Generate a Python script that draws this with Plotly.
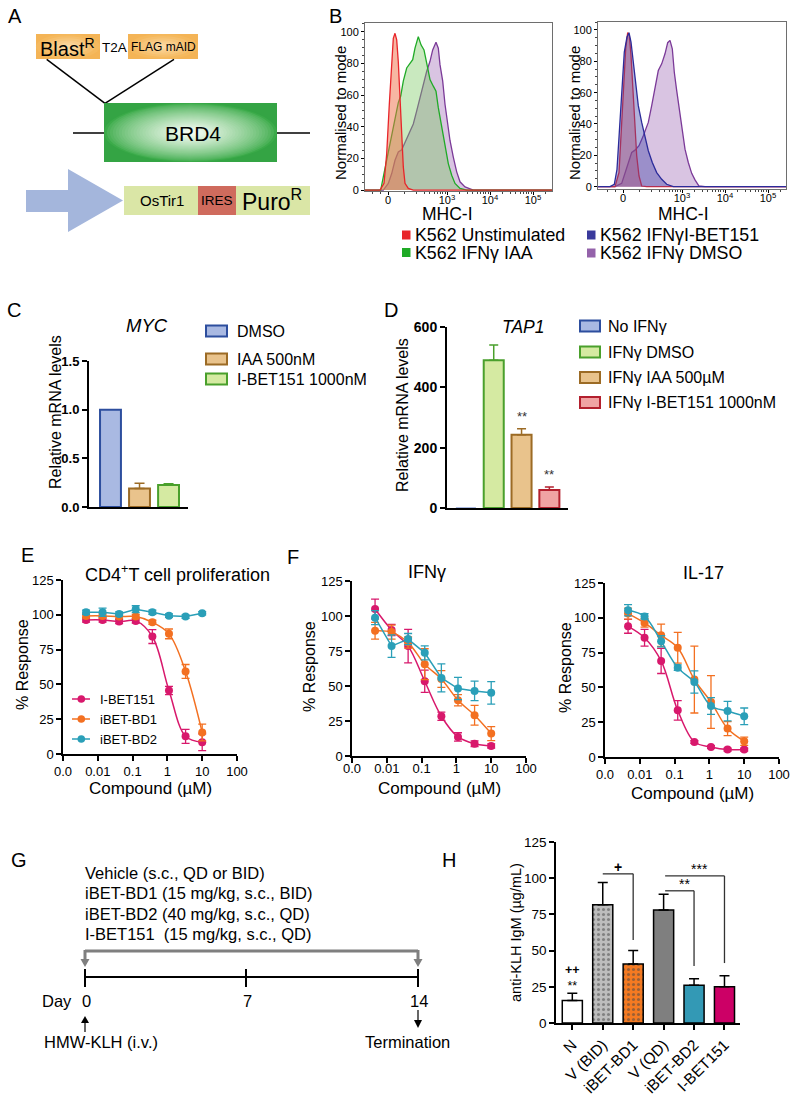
import numpy as np
import plotly.graph_objects as go

W, H = 800, 1100
FONT = "Liberation Sans, Arial, Helvetica, sans-serif"

# ======================= DATA =======================
# Panel B - MHC-I flow histograms (x in biexponential display units, y = % of mode)
hist_tick_vals = [0, 59, 102, 145]
hist_tick_text = ["0", "10<sup>3</sup>", "10<sup>4</sup>", "10<sup>5</sup>"]

b1_unstim_x = [-25, -8, -4, -1.3, 1.3, 3.7, 5.3, 7, 8.7, 10.3, 12, 13.7, 15.3, 17, 20.3, 25.3, 165]
b1_unstim_y = [0, 0, 4.2, 22.9, 54, 83, 95.8, 99, 94.8, 81, 58.3, 33.3, 14.6, 4.2, 1, 0, 0]
b1_iaa_x = [-25, -7.3, -4.7, -2, 0.3, 3.7, 7, 10.3, 12.7, 15.3, 18.7, 22, 24.7, 27, 30.3, 33, 36,
            38.7, 42, 45.3, 48, 50.3, 53.7, 57, 60.3, 63.7, 67, 72, 78.7, 165]
b1_iaa_y = [0, 0, 8.3, 16.7, 22.9, 35.4, 43.8, 55.2, 59.4, 68.8, 77.1, 80.2, 82.3, 89.6, 96.9, 91.7,
            88.5, 80.2, 69.8, 65.6, 62.5, 52, 39.6, 27.1, 16.7, 9.4, 4.2, 1, 0, 0]
b1_dmso_x = [-25, -4.7, 0.3, 3.7, 7, 10.3, 13.7, 17, 20.3, 25.3, 28.7, 32, 35.3, 38.7, 42, 44.7, 48,
             50.3, 52, 54.7, 57, 59.3, 62, 65.3, 68.7, 72, 77, 85.3, 165]
b1_dmso_y = [0, 0, 4.2, 10.4, 18.8, 24, 25.4, 30.2, 35.4, 41.7, 50, 58.3, 66.7, 75, 81.3, 88.5, 93.3,
             89.6, 79.2, 68.8, 54.2, 43.8, 31.3, 20.8, 11.5, 5.2, 2, 0, 0]

b2_unstim_x = [-25, -8, -4, -2, 0.3, 2.7, 4.7, 6.3, 8, 9.7, 11.3, 13.7, 16, 18.7, 23.7, 165]
b2_unstim_y = [0, 0, 9, 30.3, 62.4, 88, 98.3, 96.6, 83.8, 62.4, 41, 19.7, 6.8, 0.4, 0, 0]
b2_ibet_x = [-25, -13, -8.7, -6, -3.7, -1.3, 1.3, 4, 6, 8, 10.3, 12.7, 15.3, 18.7, 22, 25.3, 29.3,
             33.7, 38.7, 43.7, 50.3, 165]
b2_ibet_y = [0, 0, 1.5, 11.1, 34.6, 62.4, 85.9, 95.5, 98.3, 92.3, 78.4, 65.6, 51.7, 41, 31.4, 22.9,
             15.4, 9, 4.7, 1.5, 0, 0]
b2_dmso_x = [-25, -8, -1.3, 3.7, 8.7, 12, 16, 20.3, 25.3, 28.7, 32, 35.3, 38.7, 42, 44.7, 47, 49.3,
             51.3, 53.7, 57, 59.3, 62, 65.3, 68.7, 72, 76, 82, 165]
b2_dmso_y = [0, 0, 2.1, 12.2, 21.8, 23.3, 26.1, 32.5, 41, 51.7, 63.5, 74.1, 78.4, 84.8, 91.9, 93.4,
             88, 73, 61.3, 46.3, 34.6, 23.9, 15.4, 8.5, 4.3, 0.4, 0, 0]
hist_legend = ["K562 Unstimulated", "K562 IFNγ IAA", "K562 IFNγI-BET151", "K562 IFNγ DMSO"]

# Panel C - MYC
myc_groups = ["DMSO", "IAA 500nM", "I-BET151 1000nM"]
myc_values = [1.0, 0.19, 0.225]
myc_errors = [0.0, 0.055, 0.015]

# Panel D - TAP1
tap1_groups = ["No IFNγ", "IFNγ DMSO", "IFNγ IAA 500µM", "IFNγ I-BET151 1000nM"]
tap1_values = [1.0, 490.0, 243.0, 60.0]
tap1_errors = [0.0, 50.0, 20.0, 10.0]
tap1_sig = ["", "", "**", "**"]

# Panels E/F - dose response
conc = [0.0046, 0.0137, 0.041, 0.123, 0.37, 1.11, 3.33, 10]
compounds = ["I-BET151", "iBET-BD1", "iBET-BD2"]
conc_ticks = [0.001, 0.01, 0.1, 1, 10, 100]
conc_tick_text = ["0.0", "0.01", "0.1", "1", "10", "100"]

e_ibet151 = [96.3, 96.3, 95.1, 95.6, 84.4, 45.6, 12.7, 8.4]
e_ibet151_err = [1.5, 1.5, 1.5, 1.5, 5, 3, 5, 6]
e_bd1 = [99.2, 99.2, 98.7, 98.7, 94.6, 86.3, 59.3, 15.5]
e_bd1_err = [1.5, 1.5, 1.5, 1.5, 1.5, 3.5, 5, 6]
e_bd2 = [101.8, 101.8, 100.6, 104, 101.8, 99.4, 98.7, 101.1]
e_bd2_err = [1.5, 3, 1.5, 2.5, 1.5, 1.2, 1.2, 1.2]

ifng_ibet151 = [105, 90, 78.5, 53.4, 28.4, 13.6, 8.8, 7.2]
ifng_ibet151_err = [7, 4, 12, 8, 3, 3, 2, 1.5]
ifng_bd1 = [89.5, 88.5, 81, 65.6, 55, 39.8, 29.1, 16]
ifng_bd1_err = [6, 5, 4, 11, 6, 4, 7, 5]
ifng_bd2 = [98.8, 78.5, 83.5, 73.7, 55.8, 48.2, 46.5, 45.1]
ifng_bd2_err = [5, 8, 4, 5, 10, 8, 7, 8]

il17_ibet151 = [93.9, 85.7, 69, 33.5, 10.8, 7.2, 5.3, 5.3]
il17_ibet151_err = [5, 6, 9, 7, 1, 1, 1, 1]
il17_bd1 = [103, 96.3, 87.4, 78.5, 55.6, 39.5, 20.4, 11.3]
il17_bd1_err = [4, 3, 8, 11, 24, 19, 5, 3]
il17_bd2 = [105.4, 101, 83.1, 64.2, 53.9, 36.6, 33, 29.2]
il17_bd2_err = [4, 2, 4, 2, 8, 6, 7, 6]

# Panel G - timeline text
g_treatments = ["Vehicle (s.c., QD or BID)", "iBET-BD1 (15 mg/kg, s.c., BID)",
                "iBET-BD2 (40 mg/kg, s.c., QD)", "I-BET151\u00a0 (15 mg/kg, s.c., QD)"]
g_days = [0, 7, 14]

# Panel H - anti-KLH IgM
klh_groups = ["N", "V (BID)", "iBET-BD1", "V (QD)", "iBET-BD2", "I-BET151"]
klh_values = [15.6, 81.6, 40.7, 78.1, 26.0, 25.0]
klh_errors = [5.0, 15.4, 9.3, 10.9, 4.5, 7.6]
# (from group, to group, bracket level, drop to, label)
klh_brackets = [(1, 2, 103, 57.4, "+"), (3.05, 4, 91.3, 39.4, "**"), (3.05, 5, 101.6, 41.4, "***")]

# ======================= HELPERS =======================
def xdom(l, r):
    return [l / W, r / W]

def ydom(t, b):
    return [1 - b / H, 1 - t / H]

shapes, annos = [], []

def hexrgb(h):
    h = h.lstrip('#')
    return [int(h[i:i + 2], 16) for i in (0, 2, 4)]

def mix(c1, c2, t):
    a, b = hexrgb(c1), hexrgb(c2)
    return 'rgb(%d,%d,%d)' % tuple(round(a[i] + (b[i] - a[i]) * t) for i in range(3))

def p_rect(x0, y0, x1, y1, fill, line=None, lw=0):
    shapes.append(dict(type='rect', xref='x9', yref='y9', x0=x0, y0=y0, x1=x1, y1=y1,
                       fillcolor=fill, line=dict(color=line or fill, width=lw)))

def p_ell(x0, y0, x1, y1, fill):
    shapes.append(dict(type='circle', xref='x9', yref='y9', x0=x0, y0=y0, x1=x1, y1=y1,
                       fillcolor=fill, line=dict(width=0)))

def p_line(x0, y0, x1, y1, color='black', width=1.5):
    shapes.append(dict(type='line', xref='x9', yref='y9', x0=x0, y0=y0, x1=x1, y1=y1,
                       line=dict(color=color, width=width)))

def p_path(path, fill, line=None, lw=0):
    shapes.append(dict(type='path', xref='x9', yref='y9', path=path, fillcolor=fill,
                       line=dict(color=line or fill, width=lw)))

def p_text(x, y, text, size=14, xanchor='center', angle=0, color='black', **kw):
    annos.append(dict(xref='x9', yref='y9', x=x, y=y, text=text, showarrow=False,
                      xanchor=xanchor, yanchor='middle', textangle=angle,
                      font=dict(family=FONT, size=size, color=color, **kw)))

fig = go.Figure()

# ======================= PANEL A (schematic) =======================
def grad_box(x0, y0, x1, y1, c_edge, c_mid, c_center, steps=12, s_min=0.15, gamma=1.0):
    p_rect(x0, y0, x1, y1, c_edge)
    cx, cy, hw, hh = (x0 + x1) / 2, (y0 + y1) / 2, (x1 - x0) / 2, (y1 - y0) / 2
    for i in range(steps):
        s = 1.0 - (1.0 - s_min) * i / (steps - 1)
        t = (i / (steps - 1)) ** gamma
        p_ell(cx - s * hw, cy - s * hh, cx + s * hw, cy + s * hh, mix(c_mid, c_center, t))

grad_box(36, 34, 100, 59, '#f4b456', '#f5b95e', '#fbd9a4', steps=6)
grad_box(128, 34, 198, 59, '#f4b456', '#f5b95e', '#fbd9a4', steps=6)
p_text(67, 47, "Blast<sup>R</sup>", size=20)
p_text(114, 47, "T2A", size=13.5)
p_text(163, 47, "FLAG mAID", size=12)
p_line(46.7, 59.3, 105, 103.3)
p_line(174, 59.3, 105, 103.3)
p_line(73, 133, 104, 133)
p_line(277, 133, 310, 133)
grad_box(104, 103, 277, 162, '#34a444', '#3cab4a', '#f2faef', steps=28, s_min=0.08, gamma=0.75)
p_text(193, 133, "BRD4", size=21)
p_path("M 26,190 L 68,190 L 68,169 L 123,200.5 L 68,232 L 68,212 L 26,212 Z", '#a4b6dc')
p_rect(124, 186, 310, 215, '#dae6a6')
p_rect(198, 186, 236, 215, '#cf6b5d')
p_text(162, 200, "OsTir1", size=15)
p_text(217, 200, "IRES", size=13.5)
p_text(272, 200, "Puro<sup>R</sup>", size=23)

# ======================= PANEL B (histograms) =======================
def hist(x, y, line, fill, xa, ya):
    fig.add_trace(go.Scatter(x=x, y=y, mode='lines', fill='tozeroy', fillcolor=fill,
                             line=dict(color=line, width=1.3), xaxis=xa, yaxis=ya,
                             showlegend=False, hoverinfo='skip'))

C_RED, C_GRN, C_BLU, C_PUR = '#e8252a', '#1faa26', '#2b2b9a', '#7b3a98'
hist(b1_dmso_x, b1_dmso_y, C_PUR, 'rgba(170,125,190,0.45)', 'x', 'y')
hist(b1_iaa_x, b1_iaa_y, C_GRN, 'rgba(120,200,95,0.40)', 'x', 'y')
hist(b1_unstim_x, b1_unstim_y, C_RED, 'rgba(240,110,70,0.50)', 'x', 'y')
hist(b2_dmso_x, b2_dmso_y, C_PUR, 'rgba(170,125,190,0.45)', 'x2', 'y2')
hist(b2_unstim_x, b2_unstim_y, C_RED, 'rgba(235,90,90,0.45)', 'x2', 'y2')
hist(b2_ibet_x, b2_ibet_y, C_BLU, 'rgba(70,70,170,0.42)', 'x2', 'y2')

leg_cols = [C_RED, C_GRN, '#3a3a9c', '#9462aa']
leg_pos = [(402, 235), (402, 252.5), (587, 235), (587, 253)]
for (lx, ly), col, txt in zip(leg_pos, leg_cols, hist_legend):
    p_rect(lx, ly - 4.5, lx + 8.5, ly + 4.5, col)
    p_text(lx + 11, ly, txt, size=17.8, xanchor='left')

p_text(340, 113, "Normalised to mode", size=15, angle=-90)
p_text(574, 113, "Normalised to mode", size=15, angle=-90)
p_text(447, 214, "MHC-I", size=17.5)
p_text(683, 214, "MHC-I", size=17.5)

minor_b = []
for base in (59, 102, 145):
    for k in range(2, 10):
        v = base + 43 * np.log10(k)
        if v < 164:
            minor_b.append(round(float(v), 1))
for k in range(1, 10):
    minor_b.append(round(float(59 + 43 * np.log10(k / 10.0)), 1))
minor_b += [-16, -8]

# ======================= PANEL C =======================
myc_fill = ['#a9b9e2', '#e9c38c', '#d5eaa2']
myc_line = ['#2d4e9e', '#9c6b25', '#4aa02c']
for g, v, e, fc, lc in zip(myc_groups, myc_values, myc_errors, myc_fill, myc_line):
    fig.add_trace(go.Bar(x=[g], y=[v], width=0.72, xaxis='x3', yaxis='y3', showlegend=False,
                         marker=dict(color=fc, line=dict(color=lc, width=2)),
                         error_y=dict(type='data', array=[e], arrayminus=[0], symmetric=False,
                                      color=lc, thickness=1.5, width=5, visible=e > 0)))
p_text(147, 325, "<i>MYC</i>", size=18.5)
p_text(55, 412, "Relative mRNA levels", size=16, angle=-90)
for i, (g, fc, lc) in enumerate(zip(myc_groups, myc_fill, myc_line)):
    yy = [331, 359, 379][i]
    p_rect(206, yy - 5.5, 227, yy + 5.5, fc, lc, 2)
    p_text(235, yy, g, size=16, xanchor='left')

# ======================= PANEL D =======================
tap_fill = ['#a9b9e2', '#d5eaa2', '#e9c38c', '#f0a3a3']
tap_line = ['#2d4e9e', '#4aa02c', '#9c6b25', '#b3202e']
for g, v, e, fc, lc, s in zip(tap1_groups, tap1_values, tap1_errors, tap_fill, tap_line, tap1_sig):
    fig.add_trace(go.Bar(x=[g], y=[v], width=0.72, xaxis='x4', yaxis='y4', showlegend=False,
                         marker=dict(color=fc, line=dict(color=lc, width=2 if v > 5 else 0)),
                         error_y=dict(type='data', array=[e], arrayminus=[0], symmetric=False,
                                      color=lc, thickness=1.5, width=4.5, visible=e > 0)))
    if s:
        annos.append(dict(xref='x4', yref='y4', x=g, y=v + e, text=s, showarrow=False,
                          yanchor='middle', yshift=12, font=dict(family=FONT, size=13, color='#333')))
p_text(523, 327, "<i>TAP1</i>", size=17.5)
p_text(402, 415, "Relative mRNA levels", size=16, angle=-90)
for i, (g, fc, lc) in enumerate(zip(tap1_groups, tap_fill, tap_line)):
    yy = [326, 352, 377.5, 402.5][i]
    p_rect(580, yy - 5.5, 600, yy + 5.5, fc, lc, 2)
    p_text(606, yy, g, size=16, xanchor='left')

# ======================= PANELS E / F =======================
COLS = {'I-BET151': '#d8186c', 'iBET-BD1': '#f37021', 'iBET-BD2': '#2a9fb8'}

def dose(xa, ya, series):
    for name, vals, errs, shape in series:
        c = COLS[name]
        fig.add_trace(go.Scatter(x=conc, y=vals, mode='lines+markers', name=name,
                                 xaxis=xa, yaxis=ya, showlegend=False, cliponaxis=False,
                                 line=dict(color=c, width=1.5, shape=shape, smoothing=1.0),
                                 marker=dict(color=c, size=8),
                                 error_y=dict(type='data', array=errs, color=c, thickness=1.3, width=4)))

dose('x5', 'y5', [('I-BET151', e_ibet151, e_ibet151_err, 'spline'),
                  ('iBET-BD1', e_bd1, e_bd1_err, 'spline'),
                  ('iBET-BD2', e_bd2, e_bd2_err, 'linear')])
dose('x6', 'y6', [('I-BET151', ifng_ibet151, ifng_ibet151_err, 'spline'),
                  ('iBET-BD1', ifng_bd1, ifng_bd1_err, 'spline'),
                  ('iBET-BD2', ifng_bd2, ifng_bd2_err, 'linear')])
dose('x7', 'y7', [('I-BET151', il17_ibet151, il17_ibet151_err, 'spline'),
                  ('iBET-BD1', il17_bd1, il17_bd1_err, 'spline'),
                  ('iBET-BD2', il17_bd2, il17_bd2_err, 'spline')])

for i, name in enumerate(compounds):
    yy = [699, 719, 739][i]
    c = COLS[name]
    p_line(72, yy, 90, yy, c, 1.5)
    p_ell(77.5, yy - 3.8, 85.1, yy + 3.8, c)
    p_text(98, yy, name, size=13, xanchor='left')

p_text(177, 573, "CD4<sup>+</sup>T cell proliferation", size=18)
p_text(427, 572, "IFNγ", size=18)
p_text(703, 573, "IL-17", size=18)
p_text(22, 665, "% Response", size=16, angle=-90)
p_text(309, 667, "% Response", size=16, angle=-90)
p_text(565, 668, "% Response", size=16, angle=-90)
p_text(150, 788, "Compound (µM)", size=17)
p_text(439, 788, "Compound (µM)", size=17)
p_text(692, 793, "Compound (µM)", size=17)

# ======================= PANEL G (timeline) =======================
for i, t in enumerate(g_treatments):
    p_text(83, [873, 893, 914, 934][i], t, size=16.5, xanchor='left')
GR = '#7f7f7f'
p_line(85, 951, 418, 951, GR, 3)
p_line(85, 950, 85, 961, GR, 3)
p_line(418, 950, 418, 961, GR, 3)
p_path("M 80.5,959 L 89.5,959 L 85,967 Z", GR)
p_path("M 413.5,959 L 422.5,959 L 418,967 Z", GR)
p_line(85, 977, 418, 977, 'black', 2)
for d, xx in zip(g_days, [85, 246, 418]):
    p_line(xx, 969, xx, 987, 'black', 2)
    p_text(xx + 1, 1001, str(d), size=16.5)
p_text(57, 1001, "Day", size=16.5)
p_line(85, 1032, 85, 1022, 'black', 1.2)
p_path("M 81,1023 L 89,1023 L 85,1016 Z", 'black')
p_text(42, 1042, "HMW-KLH (i.v.)", size=16.5, xanchor='left')
p_line(418, 1010, 418, 1021, 'black', 1.2)
p_path("M 414,1020 L 422,1020 L 418,1028 Z", 'black')
p_text(363, 1042, "Termination", size=16.5, xanchor='left')

# ======================= PANEL H =======================
klh_fill = ['#ffffff', '#bdbdbd', '#f47a22', '#7f7f7f', '#3399b5', '#cc0066']
fig.add_trace(go.Bar(
    x=klh_groups, y=klh_values, width=0.66, xaxis='x8', yaxis='y8', showlegend=False,
    marker=dict(color=klh_fill, line=dict(color='black', width=1.5),
                pattern=dict(shape=['', '.', '.', '', '', ''], fillmode='overlay',
                             fgcolor=['#000', '#4a4a4a', '#5a2200', '#000', '#000', '#000'],
                             size=5, solidity=0.3)),
    error_y=dict(type='data', array=klh_errors, arrayminus=[0] * 6, symmetric=False,
                 color='black', thickness=1.5, width=5)))
for a, b, lvl, drop, lab in klh_brackets:
    shapes.append(dict(type='line', xref='x8', yref='y8', x0=a, x1=b, y0=lvl, y1=lvl,
                       line=dict(color='#333', width=1.3)))
    shapes.append(dict(type='line', xref='x8', yref='y8', x0=b, x1=b, y0=lvl, y1=drop,
                       line=dict(color='#333', width=1.3)))
    annos.append(dict(xref='x8', yref='y8', x=(a + b) / 2 + (0.0 if lab == '+' else 0.15), y=lvl,
                      text=lab, showarrow=False, yanchor='bottom', yshift=-3,
                      font=dict(family=FONT, size=14, color='black',
                                weight='bold' if lab == '+' else 'normal')))
annos.append(dict(xref='x8', yref='y8', x=0, y=klh_values[0] + klh_errors[0], text="<b>++</b><br>**",
                  showarrow=False, yanchor='bottom', yshift=-2,
                  font=dict(family=FONT, size=12.5, color='black')))
p_text(516, 933, "anti-KLH IgM (µg/mL)", size=14.5, angle=-90)

# ======================= PANEL LETTERS =======================
for L, (lx, ly) in zip("ABCDEFGH", [(15, 16), (335, 16), (14, 310), (391, 310), (27, 555),
                                     (293, 557), (19, 860), (449, 860)]):
    p_text(lx, ly, L, size=20)

# ======================= AXES =======================
def axc(**kw):
    d = dict(showgrid=False, zeroline=False, showline=True, linecolor='black', linewidth=1.5,
             ticks='outside', ticklen=5, tickwidth=1.5, tickcolor='black', fixedrange=True,
             automargin=False, tickfont=dict(family=FONT, size=13, color='black'))
    d.update(kw)
    return d

hist_x = dict(mirror=True, linecolor='#6e6e6e', linewidth=1, ticklen=3, tickwidth=1,
              tickvals=hist_tick_vals, ticktext=hist_tick_text, ticklabelstandoff=-4,
              tickfont=dict(family=FONT, size=11, color='black'),
              minor=dict(tickmode='array', tickvals=minor_b, ticklen=2, ticks='outside',
                         tickcolor='#444', tickwidth=1))
hist_y = dict(mirror=True, linecolor='#6e6e6e', linewidth=1, ticklen=3, tickwidth=1,
              tickvals=[0, 20, 40, 60, 80, 100],
              tickfont=dict(family=FONT, size=11, color='black'),
              minor=dict(dtick=5, ticklen=2, ticks='outside', tickcolor='#444', tickwidth=1))

bold_tf13 = dict(family=FONT, size=13, color='black', weight='bold')
bold_tf14 = dict(family=FONT, size=14, color='black', weight='bold')
log_x = dict(type='log', range=[-3, 2], tickvals=conc_ticks, ticktext=conc_tick_text)
y125 = dict(range=[0, 125], tickvals=[0, 25, 50, 75, 100, 125])

axes = dict(
    xaxis=axc(domain=xdom(365, 552), range=[-23, 164], anchor='y', **hist_x),
    yaxis=axc(domain=ydom(23, 191), range=[-0.6, 105.5], anchor='x', **hist_y),
    xaxis2=axc(domain=xdom(598, 786), range=[-25, 163], anchor='y2', **hist_x),
    yaxis2=axc(domain=ydom(22, 189), range=[-1.5, 105.1], anchor='x2', **hist_y),
    xaxis3=axc(domain=xdom(89, 188), range=[-0.74, 2.67], anchor='y3', linewidth=2,
               ticks='', showticklabels=False),
    yaxis3=axc(domain=ydom(361, 507), range=[0, 1.5], anchor='x3', linewidth=2, tickwidth=2,
               tickvals=[0, 0.5, 1.0, 1.5], tickformat='.1f', tickfont=bold_tf13),
    xaxis4=axc(domain=xdom(447, 568), range=[-0.68, 3.67], anchor='y4', linewidth=2,
               ticks='', showticklabels=False),
    yaxis4=axc(domain=ydom(327, 508), range=[0, 600], anchor='x4', linewidth=2, tickwidth=2,
               tickvals=[0, 200, 400, 600], tickfont=bold_tf14),
    xaxis5=axc(domain=xdom(63, 237), anchor='y5', **log_x),
    yaxis5=axc(domain=ydom(580, 754), anchor='x5', **y125),
    xaxis6=axc(domain=xdom(352, 526), anchor='y6', ticklabelstandoff=-5, **log_x),
    yaxis6=axc(domain=ydom(581, 756), anchor='x6', **y125),
    xaxis7=axc(domain=xdom(605, 779), anchor='y7', **log_x),
    yaxis7=axc(domain=ydom(583, 757), anchor='x7', **y125),
    xaxis8=axc(domain=xdom(556, 740), range=[-0.536, 5.51], anchor='y8', tickangle=-45,
               tickfont=dict(family=FONT, size=15.5, color='black')),
    yaxis8=axc(domain=ydom(842, 1023), anchor='x8',
               tickfont=dict(family=FONT, size=13.5, color='black'), **y125),
    xaxis9=dict(domain=[0, 1], range=[0, W], visible=False, fixedrange=True, anchor='y9',
                automargin=False),
    yaxis9=dict(domain=[0, 1], range=[H, 0], visible=False, fixedrange=True, anchor='x9',
                automargin=False),
)

fig.update_layout(template='none', width=W, height=H,
                  margin=dict(l=0, r=0, t=0, b=0, pad=0, autoexpand=False),
                  paper_bgcolor='white', plot_bgcolor='rgba(0,0,0,0)',
                  showlegend=False, barmode='overlay',
                  font=dict(family=FONT, color='black'),
                  shapes=shapes, annotations=annos, **axes)

fig.write_html("out.html", config={'displayModeBar': False},
               post_script="document.body.style.margin='0';document.body.style.padding='0';")
